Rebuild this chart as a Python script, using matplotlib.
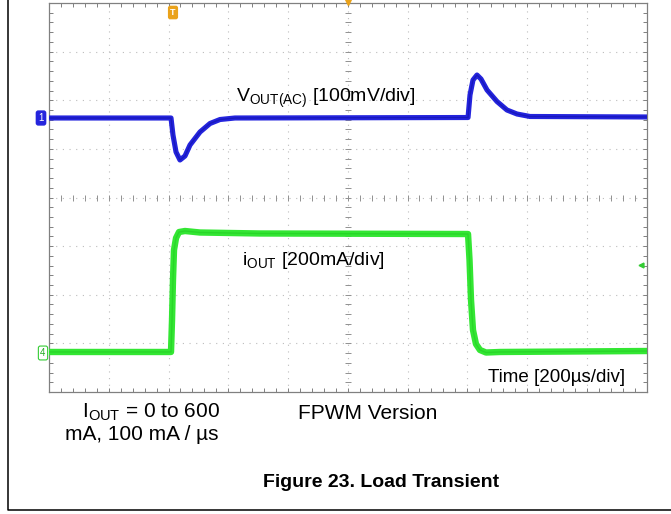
import matplotlib
matplotlib.use("Agg")
import matplotlib.pyplot as plt
import numpy as np
from matplotlib.lines import Line2D

plt.rcParams['font.family'] = ['Liberation Sans', 'DejaVu Sans']
plt.rcParams['mathtext.fontset'] = 'custom'
plt.rcParams['mathtext.rm'] = 'Liberation Sans'

# scope traces (x in time divisions, y in vertical divisions)
vout_t = [0.0, 2.042, 2.075, 2.126, 2.192, 2.276, 2.360, 2.527, 2.695, 2.862, 3.113,
          7.013, 7.046, 7.096, 7.163, 7.230, 7.331, 7.498, 7.665, 7.833, 8.050, 10.0]
vout_y = [5.635, 5.635, 5.285, 4.936, 4.771, 4.854, 5.080, 5.347, 5.522, 5.604, 5.635,
          5.645, 6.108, 6.416, 6.519, 6.437, 6.211, 5.974, 5.799, 5.717, 5.666, 5.656]

iout_t = [0.0, 2.042, 2.059, 2.075, 2.092, 2.126, 2.176, 2.276, 2.527, 3.531,
          7.013, 7.038, 7.063, 7.096, 7.146, 7.213, 7.314, 7.548, 10.0]
iout_y = [0.823, 0.823, 1.481, 2.303, 2.920, 3.167, 3.290, 3.311, 3.280, 3.260,
          3.249, 2.715, 1.892, 1.275, 0.987, 0.864, 0.812, 0.823, 0.843]

W, H = 671, 514


def fx(px):
    return px / W


def fy(py):
    return 1 - py / H


fig = plt.figure(figsize=(6.71, 5.14), dpi=100)
ax = fig.add_axes([fx(49), fy(392), (646.5 - 49) / W, (392 - 3) / H])
ax.set_xlim(0, 10)
ax.set_ylim(0, 8)

# graticule
for k in range(1, 10):
    ax.axvline(k, color='#bcbcbc', lw=0.8, ls=(0, (1, 5)), zorder=1)
for k in range(1, 8):
    ax.axhline(k, color='#bcbcbc', lw=0.8, ls=(0, (1, 5)), zorder=1)
ax.set_xticks(np.arange(0, 10.01, 1))
ax.set_yticks(np.arange(0, 8.01, 1))
ax.set_xticks(np.arange(0, 10.01, 0.2), minor=True)
ax.set_yticks(np.arange(0, 8.01, 0.2), minor=True)
ax.tick_params(which='both', direction='in', length=3, width=0.7, color='#808080',
               top=True, right=True, labelbottom=False, labelleft=False)
for s in ax.spines.values():
    s.set_color('#808080')
    s.set_linewidth(0.9)
xt = np.arange(0, 10.01, 0.2)
yt = np.arange(0, 8.01, 0.2)
ax.plot(xt, np.full(len(xt), 4.0), ls='none', marker='|', ms=4, mew=0.7, color='#909090', zorder=1)
ax.plot(np.full(len(yt), 5.0), yt, ls='none', marker='_', ms=4, mew=0.7, color='#909090', zorder=1)

# traces
ax.plot(iout_t, iout_y, color='#33e633', lw=4.6, solid_joinstyle='round', zorder=3)
ax.plot(iout_t, iout_y, color='#22cc22', lw=1.0, alpha=0.6, zorder=3)
ax.plot(vout_t, vout_y, color='#2424dd', lw=3.7, solid_joinstyle='round', zorder=4)
ax.plot(vout_t, vout_y, color='#1010a8', lw=1.0, alpha=0.6, zorder=4)

# channel markers
fig.text(fx(41), fy(118), '1', fontsize=7, color='white', ha='center', va='center',
         bbox=dict(boxstyle='round,pad=0.2', fc='#2424dd', ec='#2424dd'))
fig.text(fx(43), fy(353), '4', fontsize=7, color='#22aa22', ha='center', va='center',
         bbox=dict(boxstyle='round,pad=0.2', fc='white', ec='#33cc33', lw=0.8))
fig.text(fx(173), fy(12.5), 'T', fontsize=6.5, color='white', ha='center', va='center',
         fontweight='bold', bbox=dict(boxstyle='round,pad=0.18', fc='#eaa21a', ec='#eaa21a'))
fig.add_artist(Line2D([fx(348)], [fy(1.5)], marker='v', ms=4, color='#eaa21a', ls='none'))
fig.add_artist(Line2D([fx(641)], [fy(265)], marker='<', ms=3.5, color='#33cc33', ls='none'))

# trace labels
fig.text(fx(236), fy(101.5), r'V$_{\mathregular{OUT(AC)}}$ [100mV/div]', fontsize=14,
         va='baseline', ha='left')
fig.text(fx(242), fy(265), r'i$_{\mathregular{OUT}}$ [200mA/div]', fontsize=14,
         va='baseline', ha='left')
fig.text(fx(488), fy(382.5), 'Time [200µs/div]', fontsize=13.5, va='baseline', ha='left')

# caption area
fig.text(fx(82), fy(417.5), r'I$_{\mathregular{OUT}}$ = 0 to 600', fontsize=15,
         va='baseline', ha='left')
fig.text(fx(65), fy(440), 'mA, 100 mA / µs', fontsize=15, va='baseline', ha='left')
fig.text(fx(298), fy(419), 'FPWM Version', fontsize=15, va='baseline', ha='left')
fig.text(fx(263), fy(487), 'Figure 23. Load Transient', fontsize=14, fontweight='bold',
         va='baseline', ha='left')

# page frame
fig.add_artist(Line2D([fx(8), fx(8), fx(671)], [fy(0), fy(510), fy(510)],
                      color='black', lw=1.1))

fig.savefig('out.png', dpi=100)
